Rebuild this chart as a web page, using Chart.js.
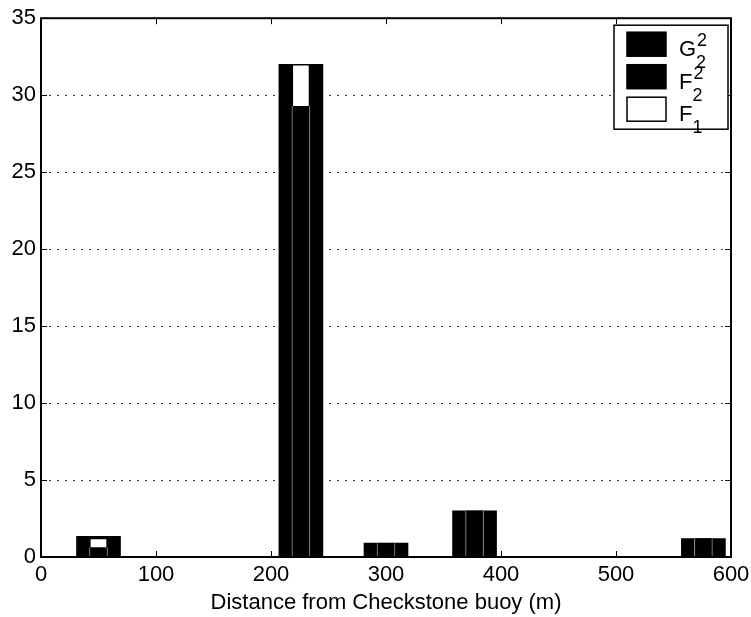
<!DOCTYPE html>
<html>
<head>
<meta charset="utf-8">
<script src="https://cdn.jsdelivr.net/npm/chart.js@4/dist/chart.umd.min.js"></script>
<style>
  html, body { margin: 0; padding: 0; background: #fff; }
  #wrap { width: 751px; height: 617px; }
</style>
</head>
<body>
<div id="wrap"><canvas id="chart" width="751" height="617"></canvas></div>
<script>
// distance of each sampling site from the buoy (m)
const distances = [50, 226, 300, 377, 576]
// counts per site
const g22Values = [1.35, 32.0, 0.9, 3.0, 1.2]
const f22Values = [0.63, 29.3, 0.9, 3.0, 1.2]
const f1Values = [1.23, 32.0, 0.9, 3.0, 1.2]
// legend entries: base letter, subscript, superscript
const legendLabels = [['G', '2', '2'], ['F', '2', '2'], ['F', '1', '']]
const xTicks = [0, 100, 200, 300, 400, 500, 600]
const yTicks = [0, 5, 10, 15, 20, 25, 30, 35]
const xTitle = 'Distance from Checkstone buoy (m)'

const FONT = "'Liberation Sans', Arial, Helvetica, sans-serif"

const toPoints = values => distances.map((d, i) => ({ x: d, y: values[i] }))

// frame, inward ticks (matlab style) and the legend with sub/superscripts
const framePlugin = {
  id: 'frame',
  afterDraw(chart) {
    const { ctx, chartArea: a, scales: { x, y } } = chart
    ctx.save()
    ctx.strokeStyle = '#000'
    ctx.lineWidth = 1
    ctx.beginPath()
    xTicks.forEach(t => {
      const px = Math.round(x.getPixelForValue(t)) + 0.5
      ctx.moveTo(px, a.bottom); ctx.lineTo(px, a.bottom - 6)
      ctx.moveTo(px, a.top); ctx.lineTo(px, a.top + 6)
    })
    yTicks.forEach(t => {
      const py = Math.round(y.getPixelForValue(t)) + 0.5
      ctx.moveTo(a.left, py); ctx.lineTo(a.left + 6, py)
      ctx.moveTo(a.right, py); ctx.lineTo(a.right - 6, py)
    })
    ctx.stroke()
    ctx.lineWidth = 2
    ctx.strokeRect(a.left, a.top, a.right - a.left, a.bottom - a.top)

    // legend box
    const lx = a.right - 117, ly = a.top + 7, lw = 114, lh = 104
    ctx.fillStyle = '#fff'
    ctx.fillRect(lx, ly, lw, lh)
    ctx.lineWidth = 1.5
    ctx.strokeRect(lx, ly, lw, lh)
    const swatches = [['#000', '#000'], ['#000', '#000'], ['#fff', '#000']]
    legendLabels.forEach((lab, i) => {
      const top = ly + 7 + i * 32.5
      ctx.fillStyle = swatches[i][0]
      ctx.fillRect(lx + 13, top, 39, 24)
      ctx.lineWidth = 1.5
      ctx.strokeStyle = swatches[i][1]
      ctx.strokeRect(lx + 13, top, 39, 24)
      ctx.fillStyle = '#000'
      ctx.textBaseline = 'alphabetic'
      ctx.font = '22px ' + FONT
      const base = top + 24
      ctx.fillText(lab[0], lx + 65, base)
      const w = ctx.measureText(lab[0]).width
      ctx.font = '18px ' + FONT
      if (lab[2]) ctx.fillText(lab[2], lx + 65 + w + 1, base - 10)
      ctx.fillText(lab[1], lx + 65 + w, base + 12)
    })
    ctx.restore()
  }
}

new Chart(document.getElementById('chart'), {
  type: 'bar',
  data: {
    datasets: [
      {
        label: 'G22',
        data: toPoints(g22Values),
        backgroundColor: '#000',
        borderWidth: 0,
        barThickness: 44,
        order: 3
      },
      {
        label: 'F22',
        data: toPoints(f22Values),
        backgroundColor: '#000',
        borderColor: '#9a9a9a',
        borderWidth: { left: 1, right: 1, top: 0, bottom: 0 },
        barThickness: 18,
        order: 1
      },
      {
        label: 'F1',
        data: toPoints(f1Values),
        backgroundColor: '#fff',
        borderColor: '#000',
        borderWidth: 1.5,
        barThickness: 18,
        order: 2
      }
    ]
  },
  options: {
    responsive: false,
    animation: false,
    devicePixelRatio: 1,
    datasets: { bar: { grouped: false } },
    layout: { padding: { top: 15, right: 20, left: 0, bottom: 0 } },
    plugins: {
      legend: { display: false },
      tooltip: { enabled: false }
    },
    scales: {
      x: {
        type: 'linear',
        min: 0,
        max: 600,
        offset: false,
        grid: { display: false, drawTicks: false },
        border: { display: false },
        ticks: {
          stepSize: 100,
          padding: 5,
          color: '#000',
          font: { family: FONT, size: 22 },
          maxRotation: 0
        },
        title: {
          display: true,
          text: xTitle,
          color: '#000',
          font: { family: FONT, size: 22 },
          padding: { top: 4, bottom: 1 }
        },
        afterFit: scale => {
          scale.height = 60
          scale.paddingRight = 0
          scale.paddingLeft = 0
        }
      },
      y: {
        min: 0,
        max: 35,
        grid: { color: '#333', lineWidth: 1, drawTicks: false },
        border: { display: false, dash: [2, 6] },
        ticks: {
          stepSize: 5,
          padding: 5,
          color: '#000',
          font: { family: FONT, size: 22 }
        },
        afterFit: scale => { scale.width = 41 }
      }
    }
  },
  plugins: [framePlugin]
})
</script>
</body>
</html>
